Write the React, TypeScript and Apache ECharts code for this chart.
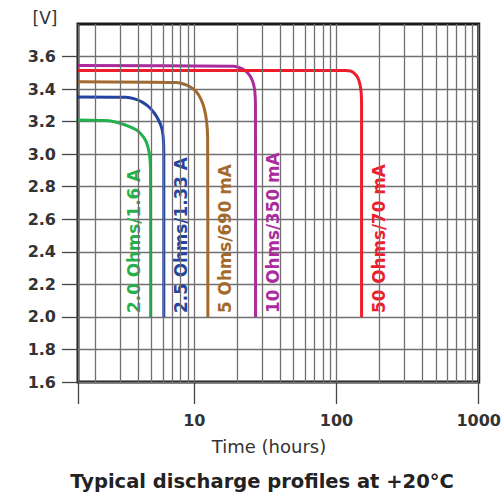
import React, { useEffect, useRef } from "react";
import * as echarts from "echarts";

// Axis values
const yTicks = [1.6, 1.8, 2.0, 2.2, 2.4, 2.6, 2.8, 3.0, 3.2, 3.4, 3.6];
const yMin = 1.6;
const yMax = 3.8;
const xMin = 1.52;
const xMax = 1000;
const xMinorGrid = [2, 3, 4, 5, 6, 7, 8, 9, 20, 30, 40, 50, 60, 70, 80, 90, 200, 300, 400, 500, 600, 700, 800, 900];

// Curve labels and colours
const curveLabels = ["2.0 Ohms/1.6 A", "2.5 Ohms/1.33 A", "5 Ohms/690 mA", "10 Ohms/350 mA", "50 Ohms/70 mA"];
const curveColors = ["#24b04c", "#2543a2", "#a36a2d", "#ab2b9d", "#ee1d2c"];
const labelSide = [-1, 1, 1, 1, 1];

// Discharge curves: time (hours) and voltage (V)
const t2Ohm = [1.52, 2.5, 3.0, 3.5, 3.9, 4.2, 4.5, 4.7, 4.85, 4.92, 4.93];
const v2Ohm = [3.21, 3.205, 3.19, 3.17, 3.15, 3.125, 3.09, 3.05, 2.99, 2.9, 2.0];

const t25Ohm = [1.52, 3.3, 3.8, 4.3, 4.8, 5.25, 5.6, 5.9, 6.05, 6.1, 6.1];
const v25Ohm = [3.352, 3.35, 3.34, 3.32, 3.29, 3.25, 3.21, 3.16, 3.1, 3.0, 2.0];

const t5Ohm = [1.52, 7.5, 8.5, 9.5, 10.3, 11.1, 11.75, 12.2, 12.4, 12.45];
const v5Ohm = [3.445, 3.44, 3.43, 3.41, 3.385, 3.34, 3.28, 3.2, 3.1, 2.0];

const t10Ohm = [1.52, 19, 21, 23, 24.7, 25.9, 26.6, 26.9, 26.95];
const v10Ohm = [3.545, 3.54, 3.53, 3.51, 3.48, 3.44, 3.39, 3.3, 2.0];

const t50Ohm = [1.52, 115, 126, 134, 141, 146, 149, 150, 150];
const v50Ohm = [3.515, 3.515, 3.51, 3.495, 3.47, 3.43, 3.38, 3.3, 2.0];

const curveTimes = [t2Ohm, t25Ohm, t5Ohm, t10Ohm, t50Ohm];
const curveVolts = [v2Ohm, v25Ohm, v5Ohm, v10Ohm, v50Ohm];

const FONT = '"DejaVu Sans", "Noto Sans", sans-serif';

export default function App() {
  const ref = useRef<HTMLDivElement>(null);

  useEffect(() => {
    document.body.style.margin = "0";
    if (!ref.current) return;
    const chart = echarts.init(ref.current, undefined, { renderer: "svg" });

    const curveSeries = curveTimes.map((ts, i) => ({
      type: "line",
      name: curveLabels[i],
      data: ts.map((t, k) => [t, curveVolts[i][k]]),
      symbol: "none",
      showSymbol: false,
      smooth: 0.25,
      clip: true,
      z: 4,
      lineStyle: { color: curveColors[i], width: 3 },
      emphasis: { disabled: true },
    }));

    chart.setOption({
      animation: false,
      grid: {
        left: 78,
        right: 23,
        top: 24,
        bottom: 111,
        show: true,
        borderColor: "#1a1a1a",
        borderWidth: 3,
        backgroundColor: "transparent",
      },
      xAxis: {
        type: "log",
        logBase: 10,
        min: xMin,
        max: xMax,
        axisLine: { show: false },
        axisTick: { show: true, length: 22, lineStyle: { color: "#444", width: 1.3 } },
        axisLabel: {
          margin: 30,
          fontFamily: FONT,
          fontWeight: "bold",
          fontSize: 16,
          color: "#333",
          formatter: (v: number) => {
            const l = Math.log10(v);
            return Math.abs(l - Math.round(l)) < 1e-6 && v >= 10 ? String(Math.round(v)) : "";
          },
        },
        splitLine: { show: true, lineStyle: { color: "#707070", width: 1.3 } },
      },
      yAxis: {
        type: "value",
        min: yMin,
        max: yMax,
        interval: 0.2,
        axisLine: { show: false },
        axisTick: { show: true, length: 16, customValues: yTicks, lineStyle: { color: "#444", width: 1.3 } },
        axisLabel: {
          customValues: yTicks,
          margin: 22,
          fontFamily: FONT,
          fontWeight: "bold",
          fontSize: 16,
          color: "#333",
          formatter: (v: number) => v.toFixed(1),
        },
        splitLine: { show: true, lineStyle: { color: "#707070", width: 1.3 } },
      },
      series: [
        {
          type: "line",
          data: [],
          z: 1,
          silent: true,
          markLine: {
            silent: true,
            symbol: ["none", "none"],
            label: { show: false },
            emphasis: { disabled: true },
            lineStyle: { color: "#707070", width: 1.3, type: "solid" },
            data: xMinorGrid.map((v) => ({ xAxis: v })),
          },
        },
        ...curveSeries,
      ],
    });

    const labelGraphics = curveTimes.map((ts, i) => {
      const p = chart.convertToPixel({ gridIndex: 0 }, [ts[ts.length - 1], 2.0]) as number[];
      return {
        type: "text",
        x: p[0] + labelSide[i] * 17,
        y: p[1] - 4,
        rotation: Math.PI / 2,
        silent: true,
        style: {
          text: curveLabels[i],
          fill: curveColors[i],
          fontFamily: FONT,
          fontWeight: "bold",
          fontSize: 16.8,
          textAlign: "left",
          textVerticalAlign: "middle",
        },
      };
    });

    chart.setOption({
      graphic: [
        {
          type: "text",
          x: 45,
          y: 18,
          silent: true,
          style: {
            text: "[V]",
            fill: "#333",
            fontFamily: FONT,
            fontSize: 17,
            textAlign: "center",
            textVerticalAlign: "middle",
          },
        },
        {
          type: "text",
          x: 269,
          y: 446,
          silent: true,
          style: {
            text: "Time (hours)",
            fill: "#333",
            fontFamily: FONT,
            fontSize: 18,
            textAlign: "center",
            textVerticalAlign: "middle",
          },
        },
        {
          type: "text",
          x: 262,
          y: 481,
          silent: true,
          style: {
            text: "Typical discharge profiles at +20°C",
            fill: "#222",
            fontFamily: FONT,
            fontWeight: "bold",
            fontSize: 19.5,
            textAlign: "center",
            textVerticalAlign: "middle",
          },
        },
        ...labelGraphics,
      ],
    });

    return () => {
      chart.dispose();
    };
  }, []);

  return <div ref={ref} style={{ width: 504, height: 493 }} />;
}
